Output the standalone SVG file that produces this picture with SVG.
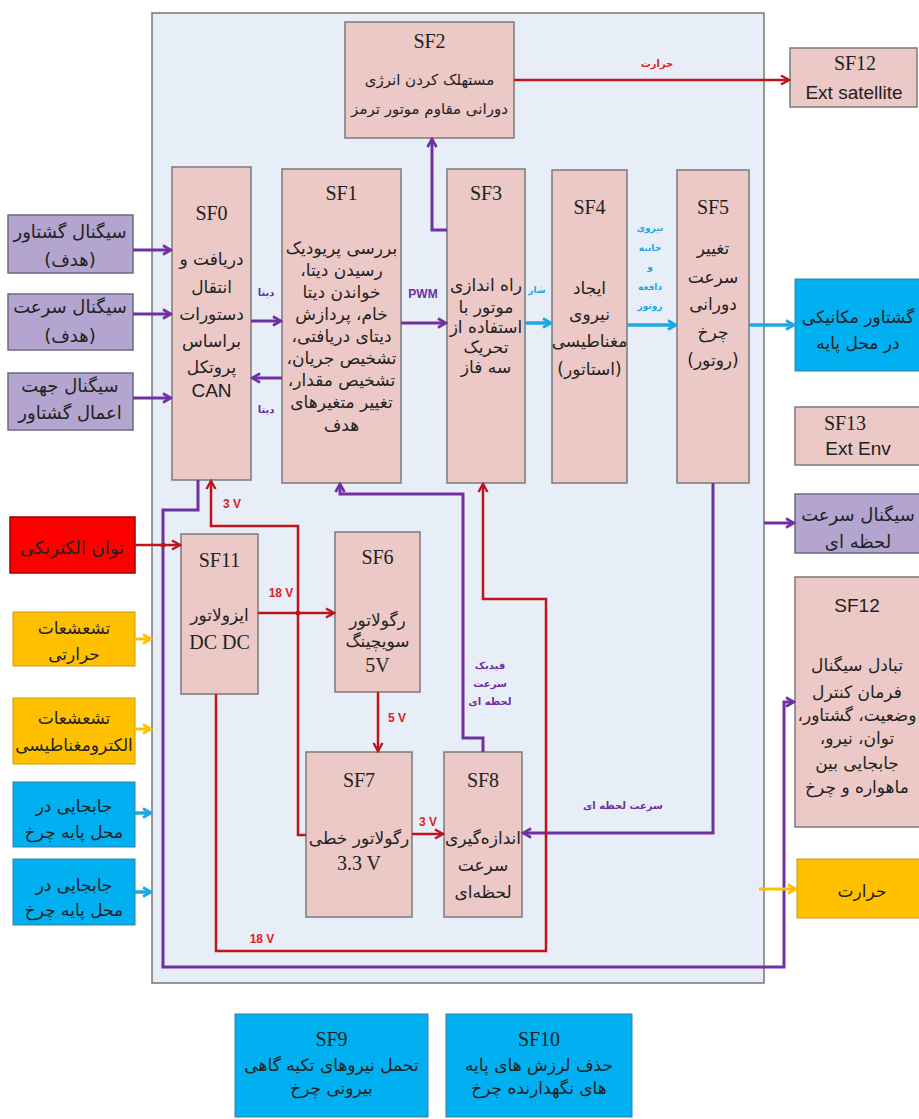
<svg xmlns="http://www.w3.org/2000/svg" width="919" height="1119" viewBox="0 0 919 1119">
<style>
.node{fill:#ecc9c6;stroke:#7a7a7a;stroke-width:1.5}
.purp{fill:#b3a5cf;stroke:#6e6a85;stroke-width:1.5}
.cyanb{fill:#00b0f0;stroke:#3a7fa0;stroke-width:1}
.yel{fill:#ffc000;stroke:#c99a10;stroke-width:1}
.redb{fill:#ff0000;stroke:#a00000;stroke-width:1.5}
.t{font-family:"Liberation Serif",serif;font-size:20px;fill:#222;text-anchor:middle}
.a{font-family:"Liberation Sans",sans-serif;font-size:19px;fill:#222;text-anchor:middle}
.f{font-family:"DejaVu Sans","Noto Sans",sans-serif;font-size:17px;fill:#222;text-anchor:middle;direction:rtl}
.fs{font-size:15px}
.fb{font-size:18px}
.lp{font-family:"DejaVu Sans",sans-serif;font-size:10px;fill:#7030a0;text-anchor:middle;font-weight:bold;direction:rtl}
.lr{font-family:"Liberation Sans",sans-serif;font-size:12px;fill:#e02020;text-anchor:middle;font-weight:bold}
.lrf{font-family:"DejaVu Sans",sans-serif;font-size:10px;fill:#e02020;text-anchor:middle;font-weight:bold;direction:rtl}
.lc{font-family:"DejaVu Sans",sans-serif;font-size:9px;fill:#1fa8e0;text-anchor:middle;font-weight:bold;direction:rtl}
.cp{fill:none;stroke:#7030a0;stroke-width:3}
.cr{fill:none;stroke:#c0141c;stroke-width:2.5}
.cc{fill:none;stroke:#1fa8e0;stroke-width:3.5}
.cy{fill:none;stroke:#ffc000;stroke-width:3}
</style>
<defs>
<marker id="mp" viewBox="0 0 12 12" markerUnits="userSpaceOnUse" markerWidth="12" markerHeight="12" refX="10" refY="6" orient="auto"><path d="M2,1.5 L10,6 L2,10.5" fill="none" stroke="#7030a0" stroke-width="2.6"/></marker>
<marker id="mr" viewBox="0 0 12 12" markerUnits="userSpaceOnUse" markerWidth="12" markerHeight="12" refX="10" refY="6" orient="auto"><path d="M2,1.5 L10,6 L2,10.5" fill="none" stroke="#c0141c" stroke-width="2.4"/></marker>
<marker id="mc" viewBox="0 0 12 12" markerUnits="userSpaceOnUse" markerWidth="12" markerHeight="12" refX="10" refY="6" orient="auto"><path d="M2,1.5 L10,6 L2,10.5" fill="none" stroke="#1fa8e0" stroke-width="2.8"/></marker>
<marker id="my" viewBox="0 0 12 12" markerUnits="userSpaceOnUse" markerWidth="12" markerHeight="12" refX="10" refY="6" orient="auto"><path d="M2,1.5 L10,6 L2,10.5" fill="none" stroke="#ffc000" stroke-width="2.6"/></marker>
</defs>
<rect width="919" height="1119" fill="#ffffff"/>
<g id="container"><rect x="152" y="13" width="612" height="970" fill="#e7eef8" stroke="#777" stroke-width="1.5"/></g>

<g id="SF2"><rect class="node" x="345" y="22" width="169" height="116"/>
<text class="t" x="429.5" y="48">SF2</text>
<text class="f fs" x="429.5" y="85">مستهلک کردن انرژی</text>
<text class="f fs" x="429.5" y="114">دورانی مقاوم موتور ترمز</text></g>

<g id="SF12sat"><rect class="node" x="790" y="48" width="127" height="59"/>
<text class="t" x="855" y="70">SF12</text>
<text class="a" x="854" y="99">Ext satellite</text></g>

<g id="SF0"><rect class="node" x="172" y="167" width="79" height="313"/>
<text class="t" x="211.5" y="220">SF0</text>
<text class="f" x="211.5" y="265">دریافت و</text>
<text class="f" x="211.5" y="293">انتقال</text>
<text class="f" x="211.5" y="320">دستورات</text>
<text class="f" x="211.5" y="347">براساس</text>
<text class="f" x="211.5" y="373">پروتکل</text>
<text class="a" x="211.5" y="397">CAN</text></g>

<g id="SF1"><rect class="node" x="282" y="169" width="119" height="314"/>
<text class="t" x="341.5" y="200">SF1</text>
<text class="f" x="341.5" y="254">بررسی پریودیک</text>
<text class="f" x="341.5" y="276">رسیدن دیتا،</text>
<text class="f" x="341.5" y="298">خواندن دیتا</text>
<text class="f" x="341.5" y="320">خام، پردازش</text>
<text class="f" x="341.5" y="342">دیتای دریافتی،</text>
<text class="f" x="341.5" y="364">تشخیص جریان،</text>
<text class="f" x="341.5" y="386">تشخیص مقدار،</text>
<text class="f" x="341.5" y="408">تغییر متغیرهای</text>
<text class="f" x="341.5" y="431">هدف</text></g>

<g id="SF3"><rect class="node" x="447" y="169" width="78" height="314"/>
<text class="t" x="486" y="200">SF3</text>
<text class="f" x="486" y="291">راه اندازی</text>
<text class="f" x="486" y="313">موتور با</text>
<text class="f" x="486" y="333">استفاده از</text>
<text class="f" x="486" y="353">تحریک</text>
<text class="f" x="486" y="373">سه فاز</text></g>

<g id="SF4"><rect class="node" x="552" y="170" width="75" height="313"/>
<text class="t" x="589.5" y="214">SF4</text>
<text class="f" x="589.5" y="294">ایجاد</text>
<text class="f" x="589.5" y="320">نیروی</text>
<text class="f" x="589.5" y="347">مغناطیسی</text>
<text class="f" x="589.5" y="375">(استاتور)</text></g>

<g id="SF5"><rect class="node" x="677" y="170" width="72" height="313"/>
<text class="t" x="713" y="214">SF5</text>
<text class="f" x="713" y="254">تغییر</text>
<text class="f" x="713" y="283">سرعت</text>
<text class="f" x="713" y="310">دورانی</text>
<text class="f" x="713" y="338">چرخ</text>
<text class="f" x="713" y="366">(روتور)</text></g>

<g id="torque"><rect class="cyanb" x="795" y="279" width="126" height="92"/>
<text class="f" x="858" y="323">گشتاور مکانیکی</text>
<text class="f" x="858" y="349">در محل پایه</text></g>

<g id="SF13"><rect class="node" x="795" y="407" width="126" height="58"/>
<text class="t" x="845" y="430">SF13</text>
<text class="a" x="858" y="455">Ext Env</text></g>

<g id="in1"><rect class="purp" x="8" y="215" width="125" height="58"/>
<text class="f fb" x="70" y="238">سیگنال گشتاور</text>
<text class="f fb" x="70" y="266">(هدف)</text></g>
<g id="in2"><rect class="purp" x="8" y="294" width="125" height="56"/>
<text class="f fb" x="70" y="313">سیگنال سرعت</text>
<text class="f fb" x="70" y="342">(هدف)</text></g>
<g id="in3"><rect class="purp" x="8" y="373" width="125" height="57"/>
<text class="f fb" x="70" y="392">سیگنال جهت</text>
<text class="f fb" x="70" y="419">اعمال گشتاور</text></g>

<g id="power"><rect class="redb" x="10" y="517" width="125" height="56"/>
<text class="f fb" x="72" y="554">توان الکتریکی</text></g>

<g id="heat1"><rect class="yel" x="13" y="612" width="122" height="54"/>
<text class="f" x="74" y="634">تشعشعات</text>
<text class="f" x="74" y="660">حرارتی</text></g>
<g id="emr"><rect class="yel" x="13" y="698" width="122" height="66"/>
<text class="f" x="74" y="724">تشعشعات</text>
<text class="f" x="74" y="751">الکترومغناطیسی</text></g>
<g id="disp1"><rect class="cyanb" x="13" y="782" width="122" height="65"/>
<text class="f" x="74" y="812">جابجایی در</text>
<text class="f" x="74" y="838">محل پایه چرخ</text></g>
<g id="disp2"><rect class="cyanb" x="13" y="859" width="122" height="66"/>
<text class="f" x="74" y="891">جابجایی در</text>
<text class="f" x="74" y="916">محل پایه چرخ</text></g>

<g id="SF11"><rect class="node" x="181" y="534" width="77" height="160"/>
<text class="t" x="219.5" y="567">SF11</text>
<text class="f" x="219.5" y="621">ایزولاتور</text>
<text class="t" x="219.5" y="649">DC DC</text></g>

<g id="SF6"><rect class="node" x="335" y="532" width="85" height="160"/>
<text class="t" x="377.5" y="564">SF6</text>
<text class="f" x="377.5" y="626">رگولاتور</text>
<text class="f" x="377.5" y="647">سویچینگ</text>
<text class="t" x="377.5" y="672">5V</text></g>

<g id="SF7"><rect class="node" x="306" y="752" width="106" height="165"/>
<text class="t" x="359" y="787">SF7</text>
<text class="f" x="359" y="844">رگولاتور خطی</text>
<text class="t" x="359" y="870">3.3 V</text></g>

<g id="SF8"><rect class="node" x="444" y="752" width="78" height="165"/>
<text class="t" x="483" y="787">SF8</text>
<text class="f" x="483" y="844">اندازه‌گیری</text>
<text class="f" x="483" y="871">سرعت</text>
<text class="f" x="483" y="898">لحظه‌ای</text></g>

<g id="speedsig"><rect class="purp" x="795" y="494" width="126" height="59"/>
<text class="f fb" x="858" y="521">سیگنال سرعت</text>
<text class="f fb" x="858" y="548">لحظه ای</text></g>

<g id="SF12"><rect class="node" x="795" y="577" width="126" height="250"/>
<text class="a" x="857" y="612">SF12</text>
<text class="f" x="857" y="671">تبادل سیگنال</text>
<text class="f" x="857" y="698">فرمان کنترل</text>
<text class="f" x="857" y="721">وضعیت، گشتاور،</text>
<text class="f" x="857" y="744">توان، نیرو،</text>
<text class="f" x="857" y="769">جابجایی بین</text>
<text class="f" x="857" y="793">ماهواره و چرخ</text></g>

<g id="heatout"><rect class="yel" x="797" y="859" width="124" height="59"/>
<text class="f" x="862" y="897">حرارت</text></g>

<g id="SF9"><rect class="cyanb" x="235" y="1014" width="193" height="103"/>
<text class="t" x="331.5" y="1046">SF9</text>
<text class="f" x="331.5" y="1071">تحمل نیروهای تکیه گاهی</text>
<text class="f" x="331.5" y="1094">بیرونی چرخ</text></g>
<g id="SF10"><rect class="cyanb" x="446" y="1014" width="186" height="103"/>
<text class="t" x="539" y="1046">SF10</text>
<text class="f" x="539" y="1071">حذف لرزش های پایه</text>
<text class="f" x="539" y="1094">های نگهدارنده چرخ</text></g>

<g id="connectors">
<path class="cp" marker-end="url(#mp)" d="M133,250 H171"/>
<path class="cp" marker-end="url(#mp)" d="M133,314 H171"/>
<path class="cp" marker-end="url(#mp)" d="M133,398 H171"/>
<path class="cp" marker-end="url(#mp)" d="M251,321 H281"/>
<path class="cp" marker-end="url(#mp)" d="M282,378 H252"/>
<path class="cp" marker-end="url(#mp)" d="M401,323 H446"/>
<path class="cp" marker-end="url(#mp)" d="M447,230 H432 V139"/>
<path class="cp" marker-end="url(#mp)" d="M713,483 V833 H523"/>
<path class="cp" marker-end="url(#mp)" d="M483,752 V738 H463 V494 H340 V484"/>
<path class="cp" marker-end="url(#mp)" d="M198,480 V510 H163 V967 H784 V702 H794"/>
<path class="cp" marker-end="url(#mp)" d="M764,523 H794"/>
<path class="cr" marker-end="url(#mr)" d="M135,545 H180"/>
<path class="cr" marker-end="url(#mr)" d="M514,80 H789"/>
<path class="cr" marker-end="url(#mr)" d="M306,835 H298 V526 H211 V481"/>
<path class="cr" marker-end="url(#mr)" d="M258,613 H334"/>
<path class="cr" marker-end="url(#mr)" d="M378,692 V751"/>
<path class="cr" marker-end="url(#mr)" d="M412,834 H443"/>
<path class="cr" marker-end="url(#mr)" d="M216,694 V951 H546 V599 H483 V484"/>
<circle cx="163" cy="545" r="2.5" fill="#c0141c"/>
<circle cx="298" cy="613" r="2.5" fill="#c0141c"/>
<path class="cc" marker-end="url(#mc)" d="M525,323 H551"/>
<path class="cc" marker-end="url(#mc)" d="M627,325 H676"/>
<path class="cc" marker-end="url(#mc)" d="M749,325 H794"/>
<path class="cc" marker-end="url(#mc)" d="M135,813 H151"/>
<path class="cc" marker-end="url(#mc)" d="M135,892 H151"/>
<path class="cy" marker-end="url(#my)" d="M135,639 H151"/>
<path class="cy" marker-end="url(#my)" d="M135,729 H151"/>
<path class="cy" marker-end="url(#my)" d="M759,889 H796"/>
<text class="lrf" x="657" y="67">حرارت</text>
<text class="lp" x="266" y="296">دیتا</text>
<text class="lp" x="266" y="413">دیتا</text>
<text class="lp" x="423" y="298" style="font-family:'Liberation Sans',sans-serif;font-size:12px">PWM</text>
<text class="lc" x="537" y="293">شار</text>
<text class="lc" x="650" y="231">نیروی</text>
<text class="lc" x="650" y="251">جانبه</text>
<text class="lc" x="650" y="270">و</text>
<text class="lc" x="650" y="290">دافعه</text>
<text class="lc" x="650" y="309">روتور</text>
<text class="lr" x="232" y="508">3 V</text>
<text class="lr" x="281" y="597">18 V</text>
<text class="lr" x="397" y="722">5 V</text>
<text class="lr" x="428" y="826">3 V</text>
<text class="lr" x="262" y="943">18 V</text>
<text class="lp" x="490" y="669">فیدبک</text>
<text class="lp" x="490" y="687">سرعت</text>
<text class="lp" x="490" y="705">لحظه ای</text>
<text class="lp" x="623" y="809">سرعت لحظه ای</text>
</g>
</svg>
